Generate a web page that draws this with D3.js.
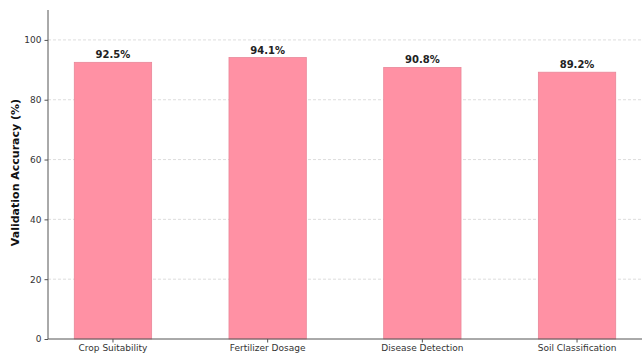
<!DOCTYPE html>
<html><head><meta charset="utf-8">
<script src="https://cdn.jsdelivr.net/npm/d3@7"></script>
<style>body{margin:0;background:#fff}svg{display:block}</style>
</head><body><svg id="c" width="642" height="359"></svg>
<script>
const categories = ["Crop Suitability","Fertilizer Dosage","Disease Detection","Soil Classification"];
const accuracy = [92.5, 94.1, 90.8, 89.2];
const yTicks = [0, 20, 40, 60, 80, 100];
const yLabel = "Validation Accuracy (%)";

(function () {
const svg = d3.select("#c");
const font = "DejaVu Sans, sans-serif";
const mL = 48, mR = 642, mT = 10, mB = 339;

const x = d3.scaleBand().domain(categories).range([mL, mR]).paddingInner(0.5).paddingOuter(0.17);
const y = d3.scaleLinear().domain([0, 110]).range([mB, mT]);

// grid
svg.append("g").selectAll("line").data(yTicks.filter(d => d > 0)).join("line")
  .attr("x1", mL).attr("x2", mR)
  .attr("y1", d => y(d)).attr("y2", d => y(d))
  .attr("stroke", "#d6d6d6").attr("stroke-width", 0.8).attr("stroke-dasharray", "3,2");

// bars
svg.append("g").selectAll("rect").data(accuracy).join("rect")
  .attr("x", (d, i) => x(categories[i]))
  .attr("width", x.bandwidth())
  .attr("y", d => y(d))
  .attr("height", d => y(0) - y(d))
  .attr("fill", "#ff91a4").attr("stroke", "#e98799").attr("stroke-width", 0.8);

// value labels
svg.append("g").selectAll("text").data(accuracy).join("text")
  .attr("x", (d, i) => x(categories[i]) + x.bandwidth() / 2)
  .attr("y", d => y(d) - 4)
  .attr("text-anchor", "middle")
  .attr("font-family", font).attr("font-size", 10).attr("font-weight", "bold").attr("fill", "#222")
  .text(d => d.toFixed(1) + "%");

// axes
const yAxis = svg.append("g").attr("transform", `translate(${mL},0)`)
  .call(d3.axisLeft(y).tickValues(yTicks).tickSize(3.5).tickPadding(3));
const xAxis = svg.append("g").attr("transform", `translate(0,${mB})`)
  .call(d3.axisBottom(x).tickSize(3.5).tickPadding(2).tickSizeOuter(0));
[yAxis, xAxis].forEach(g => {
  g.selectAll(".domain").attr("stroke", "#555").attr("stroke-width", 1);
  g.selectAll(".tick line").attr("stroke", "#555");
  g.selectAll("text").attr("font-family", font).attr("font-size", 9).attr("fill", "#333");
});
yAxis.select(".domain").attr("d", `M0,${mT}V${mB}`);
xAxis.select(".domain").attr("d", `M${mL},0H${mR}`);

svg.append("text")
  .attr("transform", `translate(19,${(mT + mB) / 2 - 2}) rotate(-90)`)
  .attr("text-anchor", "middle")
  .attr("font-family", font).attr("font-size", 11).attr("font-weight", "bold").attr("fill", "#111")
  .text(yLabel);
})();
</script></body></html>
